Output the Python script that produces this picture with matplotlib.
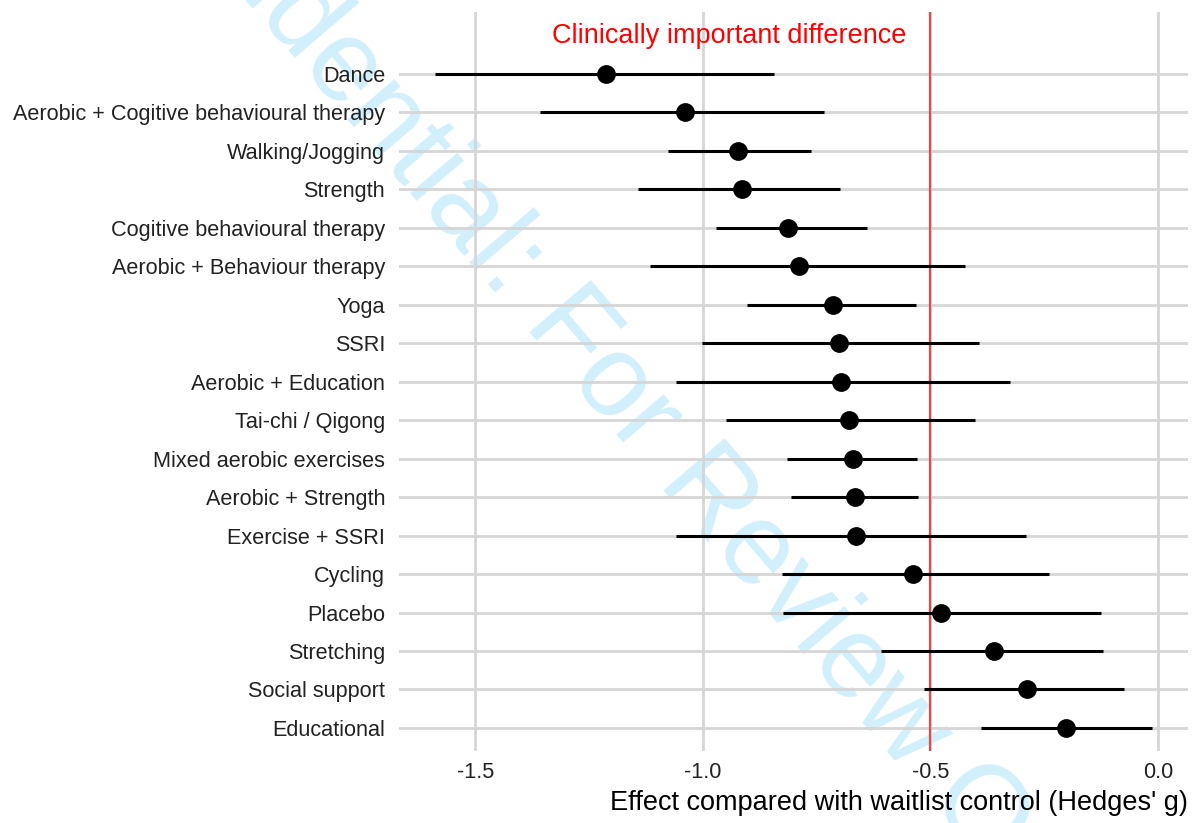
import matplotlib
matplotlib.use("Agg")
import matplotlib.pyplot as plt
import numpy as np

plt.rcParams['font.family'] = ['Liberation Sans', 'DejaVu Sans']

# Network meta-analysis estimates vs waitlist control (top to bottom)
treatments = [
    "Dance",
    "Aerobic + Cogitive behavioural therapy",
    "Walking/Jogging",
    "Strength",
    "Cogitive behavioural therapy",
    "Aerobic + Behaviour therapy",
    "Yoga",
    "SSRI",
    "Aerobic + Education",
    "Tai-chi / Qigong",
    "Mixed aerobic exercises",
    "Aerobic + Strength",
    "Exercise + SSRI",
    "Cycling",
    "Placebo",
    "Stretching",
    "Social support",
    "Educational",
]
effect = [-1.213, -1.039, -0.922, -0.915, -0.813, -0.789, -0.714, -0.701, -0.697,
          -0.678, -0.671, -0.666, -0.664, -0.538, -0.476, -0.360, -0.288, -0.201]
ci_low = [-1.589, -1.358, -1.076, -1.143, -0.972, -1.116, -0.903, -1.002, -1.060,
          -0.950, -0.815, -0.806, -1.060, -0.826, -0.824, -0.608, -0.514, -0.389]
ci_high = [-0.844, -0.734, -0.763, -0.698, -0.640, -0.424, -0.531, -0.393, -0.326,
           -0.402, -0.530, -0.527, -0.289, -0.240, -0.125, -0.120, -0.075, -0.013]

mcid = -0.5
mcid_label = "Clinically important difference"
label_x = -0.943
xticks = [-1.5, -1.0, -0.5, 0.0]

n = len(treatments)
ypos = np.arange(n, 0, -1)

fig = plt.figure(figsize=(11.92, 8.23), dpi=100)
ax = fig.add_axes([0.3347, 0.0875, 0.6619, 0.8974])
ax.patch.set_facecolor('none')

# watermark behind everything
fig.text(0.507, 0.545, "Confidential: For Review Only", rotation=-49.5,
         fontsize=84, color='#d2effc', ha='center', va='center', zorder=-5)

ax.set_axisbelow(True)
ax.grid(True, color='#d6d6d6', linewidth=2.0)
ax.axvline(mcid, color='#e8484a', linewidth=1.6, zorder=2)

ax.hlines(ypos, ci_low, ci_high, color='black', linewidth=2.2, zorder=3)
ax.plot(effect, ypos, 'o', color='black', markersize=12.5, zorder=4)

ax.text(label_x, n + 1, mcid_label, color='red', fontsize=19.5,
        ha='center', va='center')

ax.set_xlim(-1.668, 0.066)
ax.set_ylim(0.4, n + 1.6)
ax.set_xticks(xticks)
ax.set_xticklabels([f"{v:.1f}" for v in xticks])
ax.set_yticks(ypos)
ax.set_yticklabels(treatments)
ax.tick_params(axis='both', length=0, labelsize=15.6, labelcolor='#222222')
ax.tick_params(axis='y', pad=10)
ax.tick_params(axis='x', pad=8)

for s in ax.spines.values():
    s.set_visible(False)

ax.set_xlabel("Effect compared with waitlist control (Hedges' g)", fontsize=19.5,
              loc='right', labelpad=5, color='black')

fig.savefig("out.png", dpi=100)
